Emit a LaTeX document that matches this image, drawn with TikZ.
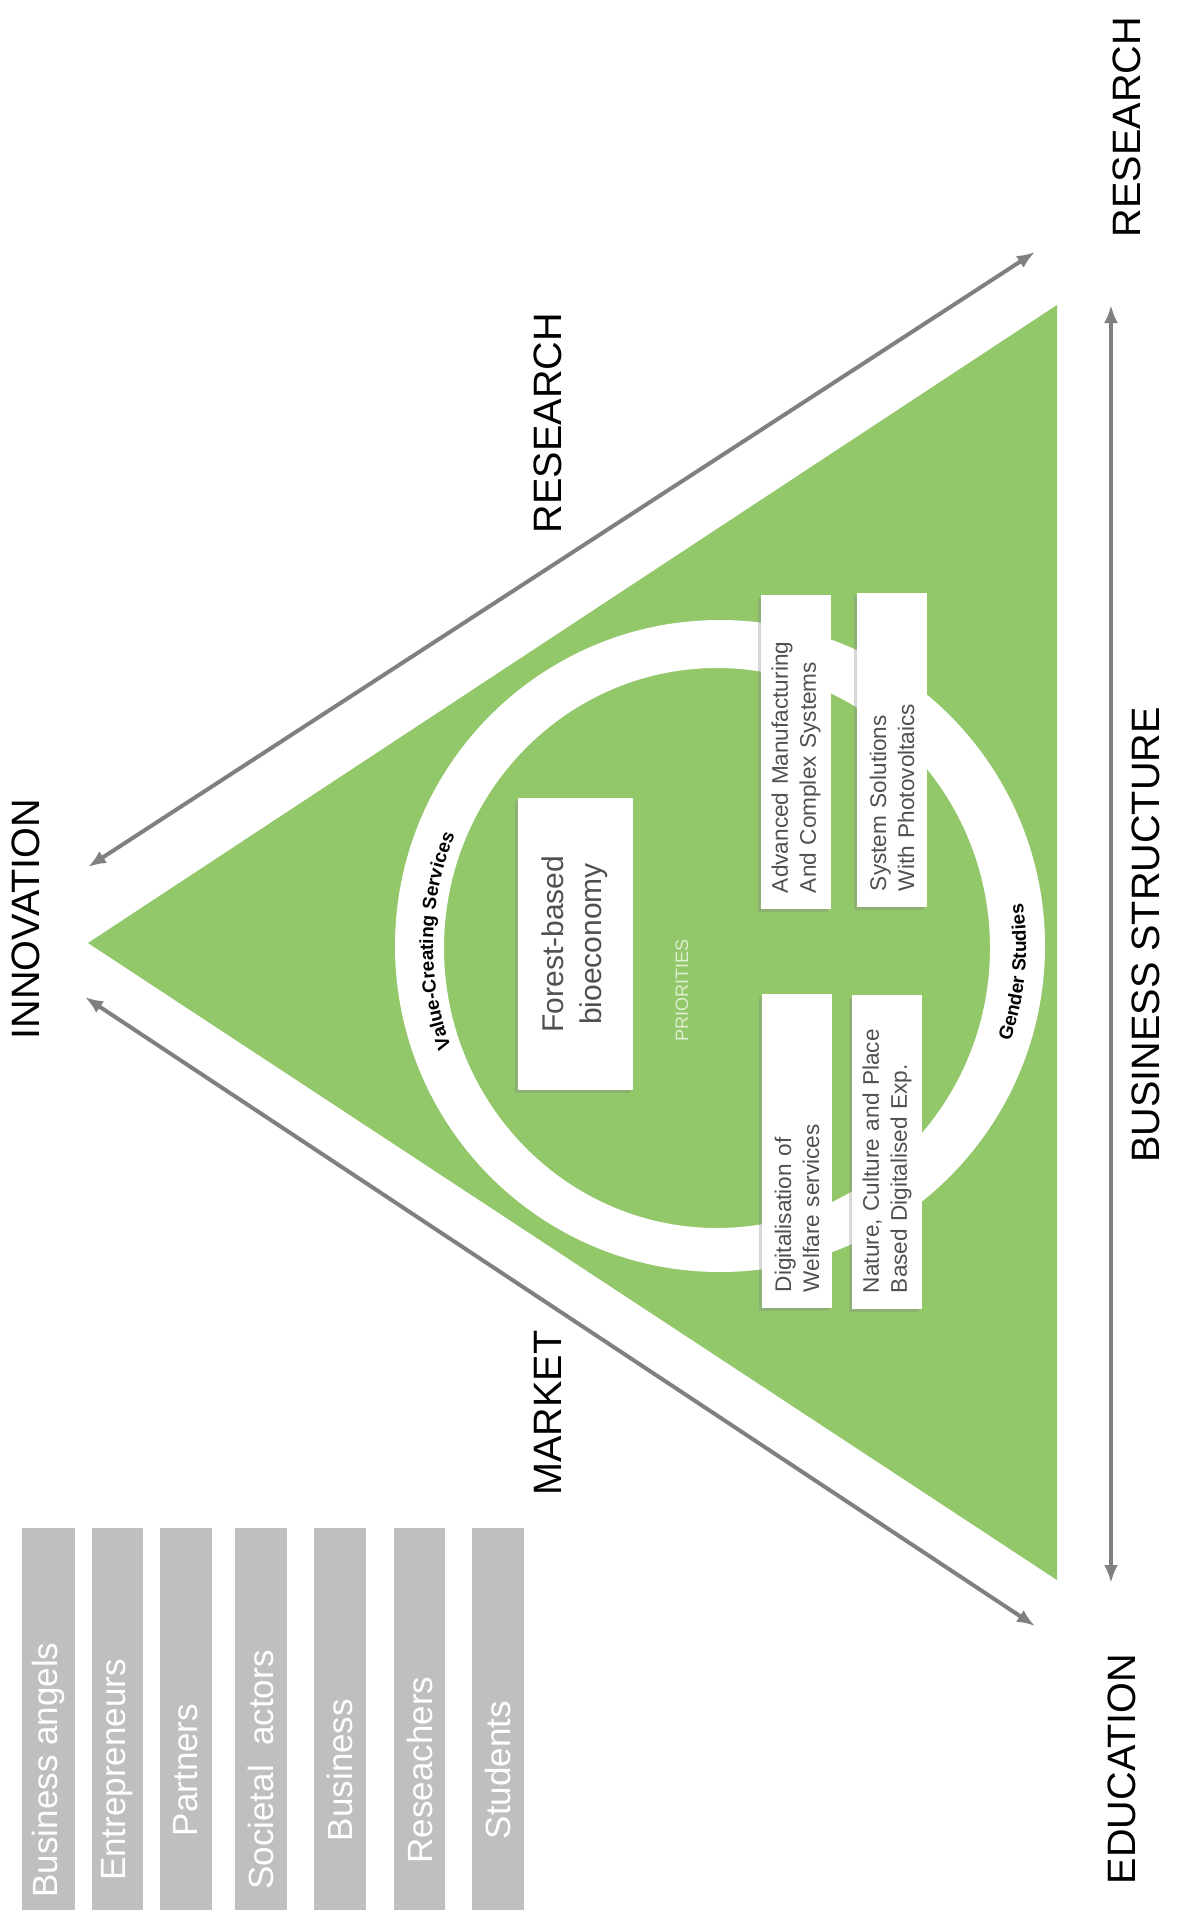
\documentclass[tikz,border=0pt]{standalone}
\usepackage{fontspec}
\setmainfont{Liberation Sans}
\usetikzlibrary{arrows.meta,shadows,decorations.text}

\definecolor{leaf}{RGB}{146,199,106}
\definecolor{bargray}{RGB}{191,191,191}
\definecolor{arrowgray}{RGB}{128,128,128}
\definecolor{boxtext}{RGB}{80,80,80}
\definecolor{palegreen}{RGB}{224,239,210}

\newcommand{\ringfont}{\bfseries\fontsize{9.5}{11}\selectfont}

\tikzset{
  axislabel/.style={rotate=90, font=\fontsize{19.8}{24}\selectfont},
  twoway/.style={arrowgray, line width=2pt, {Latex[length=9pt,width=7pt]}-{Latex[length=9pt,width=7pt]}},
  boxshadow/.style={drop shadow={shadow xshift=-1.5pt, shadow yshift=-1.5pt, opacity=.3}},
  prio/.style={fill=white, rotate=90, text=boxtext, boxshadow,
    inner xsep=8pt, inner ysep=0pt, text width=141pt, align=left,
    minimum height=35pt, font=\fontsize{11.3}{14}\selectfont},
  actor/.style={rotate=90, text=white, font=\fontsize{17.5}{21}\selectfont},
}

\begin{document}
\begin{tikzpicture}[x=0.5pt,y=-0.5pt]
\useasboundingbox (0,0) rectangle (1184,1910);

% the triangle
\coordinate (apex) at (88,943);
\coordinate (tipT) at (1057,305);
\coordinate (tipB) at (1057,1580);
\fill[leaf] (apex) -- (tipT) -- (tipB) -- cycle;

% white ring
\fill[white, even odd rule] (720,946) ellipse [x radius=325, y radius=326]
  (717,948) ellipse [x radius=273, y radius=280];

% arrows around the triangle
\coordinate (innoU) at (88,867);
\coordinate (resU) at (1035,252);
\coordinate (innoL) at (85,997);
\coordinate (eduL) at (1035,1626);
\coordinate (resV) at (1111,305);
\coordinate (eduV) at (1111,1583);
\draw[twoway] (innoU) -- (resU);
\draw[twoway] (innoL) -- (eduL);
\draw[twoway] (resV) -- (eduV);

% labels
\node[axislabel] (inno) at (26,919) {INNOVATION};
\node[axislabel] (res1) at (548,423) {RESEARCH};
\node[axislabel] (mkt) at (548,1413) {MARKET};
\node[axislabel] (res2) at (1127,127) {RESEARCH};
\node[axislabel] (bstr) at (1146,935) {BUSINESS STRUCTURE};
\node[axislabel] (edu) at (1122,1769) {EDUCATION};

% text on the ring
\path[decorate, decoration={text along path, text align=center,
    text={|\ringfont|Value-Creating Services}}]
  (720,946) ++(150:287 and 290) arc[start angle=150, end angle=212, x radius=287, y radius=290];
\path[decorate, decoration={text along path, text align=center,
    text={|\ringfont|Gender Studies}}]
  (718,947) ++(35:308 and 300) arc[start angle=35, end angle=-25, x radius=308, y radius=300];

% priorities
\node[fill=white, rotate=90, text=boxtext, boxshadow, minimum width=146pt,
  minimum height=57.5pt, align=center, font=\fontsize{15}{19}\selectfont]
  (forest) at (575,944) {Forest-based\\bioeconomy};
\node[rotate=90, text=palegreen, font=\fontsize{9}{11}\selectfont] (prios) at (682,990) {PRIORITIES};
\node[prio] (adv) at (796,752) {Advanced Manufacturing\\And Complex Systems};
\node[prio] (sys) at (892,750) {System Solutions\\With Photovoltaics};
\node[prio] (dig) at (797,1151) {Digitalisation of\\Welfare services};
\node[prio] (nat) at (887,1152) {Nature, Culture and Place\\Based Digitalised Exp.};

% actors
\foreach \xa/\xb/\who [count=\i] in {22/75/Business angels, 92/143/Entrepreneurs,
    160/212/Partners, 235/287/Societal\ \ actors, 314/366/Business,
    394/445/Reseachers, 472/524/Students}{
  \fill[bargray] (\xa,1528) rectangle (\xb,1910);
  \node[actor] (actor\i) at ({(\xa+\xb)/2},1770) {\who};
}
\end{tikzpicture}
\end{document}
